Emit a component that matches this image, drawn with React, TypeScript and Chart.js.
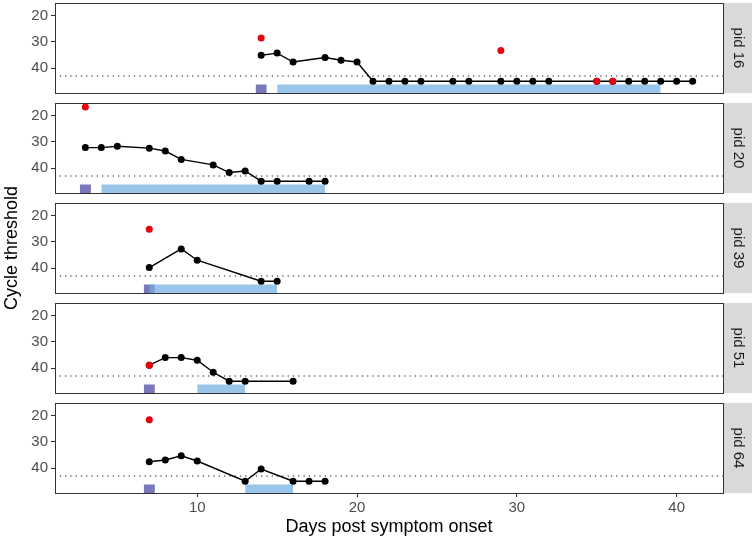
import React, { useEffect, useRef } from "react";
import { Chart, registerables } from "chart.js";

Chart.register(...registerables);

// ---- axis settings ----
const X_MIN = 1.1;
const X_MAX = 42.9;
const Y_MIN = 15.2;
const Y_MAX = 49.5;
const X_TICKS = [10, 20, 30, 40];
const Y_TICKS = [20, 30, 40];
const LIMIT_OF_DETECTION = 43;
const BAR_TOP = 46.3;
const X_TITLE = "Days post symptom onset";
const Y_TITLE = "Cycle threshold";

// ---- facet labels ----
const PANEL_LABELS = ["pid 16", "pid 20", "pid 39", "pid 51", "pid 64"];

// ---- black series (days, Ct) ----
const days16 = [14, 15, 16, 18, 19, 20, 21, 22, 23, 24, 26, 27, 29, 30, 31, 32, 35, 36, 37, 38, 39, 40, 41];
const ct16 = [35.1, 34.3, 37.7, 36.0, 37.0, 37.7, 45, 45, 45, 45, 45, 45, 45, 45, 45, 45, 45, 45, 45, 45, 45, 45, 45];
const days20 = [3, 4, 5, 7, 8, 9, 11, 12, 13, 14, 15, 17, 18];
const ct20 = [32.2, 32.2, 31.7, 32.4, 33.5, 36.7, 38.8, 41.7, 41.1, 45, 45, 45, 45];
const days39 = [7, 9, 10, 14, 15];
const ct39 = [39.8, 32.7, 37.0, 45, 45];
const days51 = [7, 8, 9, 10, 11, 12, 13, 16];
const ct51 = [38.9, 36.0, 36.0, 37.0, 41.6, 45, 45, 45];
const days64 = [7, 8, 9, 10, 13, 14, 16, 17, 18];
const ct64 = [37.6, 36.9, 35.3, 37.3, 45, 40.4, 45, 45, 45];

// ---- red series ----
const redDays16 = [14, 29, 35, 36];
const redCt16 = [28.5, 33.3, 45, 45];
const redDays20 = [3];
const redCt20 = [16.7];
const redDays39 = [7];
const redCt39 = [25.2];
const redDays51 = [7];
const redCt51 = [38.9];
const redDays64 = [7];
const redCt64 = [21.6];

// ---- rectangles ----
const sampleDay = [14, 3, 7, 7, 7];
const periodStart = [15, 4, 7, 10, 13];
const periodEnd = [39, 18, 15, 13, 16];

const blackDays = [days16, days20, days39, days51, days64];
const blackCt = [ct16, ct20, ct39, ct51, ct64];
const redDays = [redDays16, redDays20, redDays39, redDays51, redDays64];
const redCt = [redCt16, redCt20, redCt39, redCt51, redCt64];

const FONT = "'Liberation Sans', Arial, Helvetica, sans-serif";
Chart.defaults.font.family = FONT;

const toPts = (xs: number[], ys: number[]) => xs.map((x, i) => ({ x, y: ys[i] }));

function Panel({ index }: { index: number }) {
  const ref = useRef<HTMLCanvasElement | null>(null);
  const isLast = index === PANEL_LABELS.length - 1;
  const hasYTitle = index === 2;
  // canvas geometry: panel area is 90px tall starting at index*100 + 3
  const extra = hasYTitle ? 50 : 20;
  const canvasTop = index * 100 - extra;
  const padTop = 3 + extra;
  const padBottom = isLast ? 0 : 7 + extra;
  const height = isLast ? 139 + extra : 100 + 2 * extra;

  useEffect(() => {
    if (!ref.current) return;
    const decor = {
      id: "decor" + index,
      afterDraw(chart: any) {
        const { ctx, chartArea } = chart;
        const { left, right, top, bottom } = chartArea;
        ctx.save();
        // strip
        ctx.fillStyle = "#D9D9D9";
        ctx.fillRect(right + 1, top, 28, bottom - top);
        ctx.translate(right + 1 + 14, (top + bottom) / 2);
        ctx.rotate(Math.PI / 2);
        ctx.fillStyle = "#1A1A1A";
        ctx.font = `15px ${FONT}`;
        ctx.textAlign = "center";
        ctx.textBaseline = "middle";
        ctx.fillText(PANEL_LABELS[index], 0, 0);
        ctx.restore();
        // panel border
        ctx.save();
        ctx.strokeStyle = "#333333";
        ctx.lineWidth = 1;
        ctx.strokeRect(Math.round(left) + 0.5, Math.round(top) + 0.5, Math.round(right - left), Math.round(bottom - top));
        ctx.restore();
      },
    };

    const chart = new Chart(ref.current, {
      type: "line",
      data: {
        datasets: [
          {
            data: toPts(redDays[index], redCt[index]),
            showLine: false,
            pointRadius: 3.5,
            pointBackgroundColor: "#E8000D",
            pointBorderWidth: 0,
            order: 0,
          } as any,
          {
            data: toPts(blackDays[index], blackCt[index]),
            borderColor: "#000000",
            borderWidth: 1.4,
            pointRadius: 3.5,
            pointBackgroundColor: "#000000",
            pointBorderWidth: 0,
            order: 1,
          },
          {
            data: [
              { x: X_MIN, y: LIMIT_OF_DETECTION },
              { x: X_MAX, y: LIMIT_OF_DETECTION },
            ],
            borderColor: "#555555",
            borderWidth: 1.5,
            borderDash: [0.1, 5.2],
            borderCapStyle: "round",
            pointRadius: 0,
            order: 2,
          },
          {
            data: [
              { x: periodStart[index], y: BAR_TOP },
              { x: periodEnd[index], y: BAR_TOP },
            ],
            borderWidth: 0,
            borderColor: "rgba(0,0,0,0)",
            backgroundColor: "rgba(114,175,226,0.72)",
            fill: { value: Y_MAX },
            pointRadius: 0,
            order: 3,
          },
          {
            data: [
              { x: sampleDay[index] - 0.35, y: BAR_TOP },
              { x: sampleDay[index] + 0.35, y: BAR_TOP },
            ],
            borderWidth: 0,
            borderColor: "rgba(0,0,0,0)",
            backgroundColor: "#7A77BA",
            fill: { value: Y_MAX },
            pointRadius: 0,
            order: 4,
          },
        ],
      },
      options: {
        animation: false,
        responsive: false,
        events: [],
        layout: { padding: { left: 0, right: 32, top: padTop, bottom: padBottom } },
        plugins: { legend: { display: false }, tooltip: { enabled: false } },
        scales: {
          x: {
            type: "linear",
            display: isLast,
            min: X_MIN,
            max: X_MAX,
            afterBuildTicks: (s: any) => {
              s.ticks = X_TICKS.map((v) => ({ value: v }));
            },
            afterFit: (s: any) => {
              s.height = isLast ? 46 : 0;
            },
            grid: { drawOnChartArea: false, drawTicks: true, tickLength: 4, color: "#333333" },
            border: { display: false },
            ticks: { color: "#4D4D4D", font: { size: 15 }, padding: 2, maxRotation: 0 },
            title: {
              display: isLast,
              text: X_TITLE,
              color: "#000000",
              font: { size: 18 },
              padding: { top: 0, bottom: 1 },
            },
          },
          y: {
            type: "linear",
            reverse: true,
            min: Y_MIN,
            max: Y_MAX,
            afterBuildTicks: (s: any) => {
              s.ticks = Y_TICKS.map((v) => ({ value: v }));
            },
            afterFit: (s: any) => {
              s.width = 55;
            },
            grid: { drawOnChartArea: false, drawTicks: true, tickLength: 4, color: "#333333" },
            border: { display: false },
            ticks: { color: "#4D4D4D", font: { size: 15 }, padding: 3 },
            title: {
              display: hasYTitle,
              text: Y_TITLE,
              color: "#000000",
              font: { size: 18 },
              padding: { top: 1, bottom: 0 },
            },
          },
        },
      },
      plugins: [decor],
    } as any);
    return () => chart.destroy();
  }, [index]);

  return (
    <canvas
      ref={ref}
      width={755}
      height={height}
      style={{ position: "absolute", left: 0, top: canvasTop, width: 755, height }}
    />
  );
}

export default function App() {
  return (
    <div style={{ position: "absolute", left: 0, top: 0, width: 755, height: 539, background: "#FFFFFF" }}>
      {PANEL_LABELS.map((_, i) => (
        <Panel key={i} index={i} />
      ))}
    </div>
  );
}
